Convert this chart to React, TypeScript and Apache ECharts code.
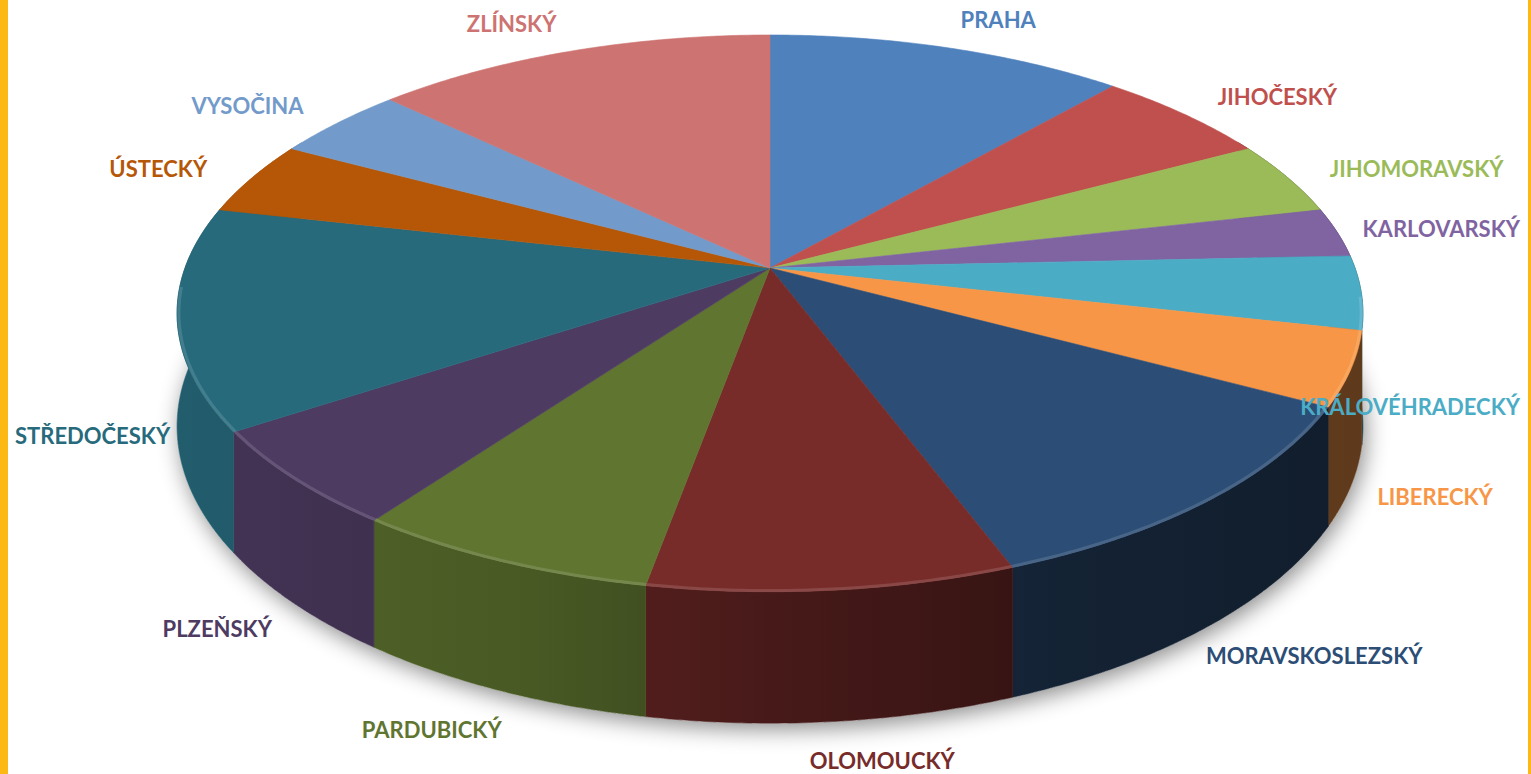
import React, { useEffect, useRef } from 'react';
import * as echarts from 'echarts';

// ---- data ----
const regions = ['PRAHA', 'JIHOČESKÝ', 'JIHOMORAVSKÝ', 'KARLOVARSKÝ', 'KRÁLOVÉHRADECKÝ', 'LIBERECKÝ', 'MORAVSKOSLEZSKÝ', 'OLOMOUCKÝ', 'PARDUBICKÝ', 'PLZEŇSKÝ', 'STŘEDOČESKÝ', 'ÚSTECKÝ', 'VYSOČINA', 'ZLÍNSKÝ'];
const values = [8, 4, 3, 2, 3, 3, 8, 6, 5, 4, 9, 3, 3, 9];
const colors = ['#4F81BD', '#C0504D', '#9BBB59', '#8064A2', '#4BACC6', '#F79646', '#2C4D75', '#772C2A', '#5F7530', '#4D3B62', '#276A7C', '#B65708', '#729ACA', '#CD7371'];

// ---- layout of the 3D pie (pixels) ----
const CX = 770, CY = 268, RX = 585, RY = 271, PERSP = 0.163, DEPTH = 110;
const LABEL_FONT = 'Lato';
const LABEL_SIZE = 22;
const CHART_LEFT = 15, CHART_RIGHT = 1520, CHART_BOTTOM = 760;

const total = values.reduce((s, v) => s + v, 0);
const starts: number[] = [];
const ends: number[] = [];
{
  let c = 0;
  values.forEach((v) => {
    starts.push((c / total) * 360);
    c += v;
    ends.push((c / total) * 360);
  });
}

function project(deg: number, r: number, h: number): number[] {
  const t = (deg * Math.PI) / 180;
  const u = r * Math.sin(t);
  const v = -r * Math.cos(t);
  const w = 1 - PERSP * v;
  return [CX + (RX * u) / w, CY + (RY * v + DEPTH * h) / w];
}

function hexToRgb(hex: string) {
  const n = parseInt(hex.slice(1), 16);
  return [(n >> 16) & 255, (n >> 8) & 255, n & 255];
}
function shade(hex: string, f: number) {
  const [r, g, b] = hexToRgb(hex);
  return `rgb(${Math.round(r * f)},${Math.round(g * f)},${Math.round(b * f)})`;
}
function tint(hex: string, t: number) {
  const [r, g, b] = hexToRgb(hex);
  const m = (c: number) => Math.round(c + (255 - c) * t);
  return `rgb(${m(r)},${m(g)},${m(b)})`;
}

let measureCtx: CanvasRenderingContext2D | null = null;
function textWidth(t: string) {
  if (!measureCtx) measureCtx = document.createElement('canvas').getContext('2d');
  if (!measureCtx) return t.length * 14;
  measureCtx.font = `bold ${LABEL_SIZE}px ${LABEL_FONT}`;
  return measureCtx.measureText(t).width;
}

function arc(a0: number, a1: number, r: number, h: number) {
  const pts: number[][] = [];
  const n = Math.max(2, Math.ceil((a1 - a0) / 0.5));
  for (let k = 0; k <= n; k++) pts.push(project(a0 + ((a1 - a0) * k) / n, r, h));
  return pts;
}

function sideItem(params: any) {
  const i = params.dataIndex;
  const children: any[] = [];
  if (i === 0) {
    children.push({
      type: 'polygon',
      shape: { points: arc(0, 360, 1, 1) },
      style: { fill: '#ffffff', shadowBlur: 22, shadowColor: 'rgba(0,0,0,0.45)', shadowOffsetX: 3, shadowOffsetY: 6 },
      z2: 0,
    });
  }
  const a0 = Math.max(starts[i], 60);
  const a1 = Math.min(ends[i], 300);
  if (a1 > a0) {
    const top = arc(a0, a1, 1, 0);
    const bottom = arc(a0, a1, 1, 1).reverse();
    const col = colors[i];
    const fill = new echarts.graphic.LinearGradient(175, 0, 1365, 0, [
      { offset: 0, color: shade(col, 0.88) },
      { offset: 0.3, color: shade(col, 0.76) },
      { offset: 0.5, color: shade(col, 0.6) },
      { offset: 0.72, color: shade(col, 0.45) },
      { offset: 1, color: shade(col, 0.38) },
    ], true);
    children.push({
      type: 'polygon',
      shape: { points: top.concat(bottom) },
      style: { fill, stroke: fill, lineWidth: 0.6 },
      z2: 5,
    });
  }
  return { type: 'group', children };
}

function topItem(params: any) {
  const i = params.dataIndex;
  const col = colors[i];
  const children: any[] = [];
  const pts = [[CX, CY]].concat(arc(starts[i], ends[i], 1, 0));
  children.push({
    type: 'polygon',
    shape: { points: pts },
    style: { fill: col, stroke: col, lineWidth: 0.6 },
    z2: 10,
  });
  const h0 = Math.max(starts[i], 96);
  const h1 = Math.min(ends[i], 266);
  if (h1 > h0) {
    children.push({
      type: 'polyline',
      shape: { points: arc(h0, h1, 0.997, 0) },
      style: { stroke: tint(col, 0.18), lineWidth: 3, opacity: 0.75, fill: 'none' },
      z2: 11,
    });
  }
  // label: outside the slice, on the bottom rim for the front half
  const mid = (starts[i] + ends[i]) / 2;
  const t = (mid * Math.PI) / 180;
  const s = Math.sin(t);
  const c = Math.cos(t);
  const front = -c > 0;
  const p = project(mid, front ? 1.08 : 1.1, front ? 1 : 0);
  const w = textWidth(regions[i]);
  let x = p[0] + Math.sign(s) * (w / 2) * (front ? 0.6 : 0.92);
  let y = p[1] + (LABEL_SIZE / 2) * -c * Math.abs(c);
  x = Math.max(CHART_LEFT + w / 2, Math.min(CHART_RIGHT - w / 2, x));
  y = Math.min(CHART_BOTTOM, y);
  children.push({
    type: 'text',
    style: {
      text: regions[i],
      x,
      y,
      align: 'center',
      verticalAlign: 'middle',
      fill: col,
      fontFamily: LABEL_FONT,
      fontWeight: 'bold',
      fontSize: LABEL_SIZE,
    },
    z2: 20,
  });
  return { type: 'group', children };
}

export default function App() {
  const ref = useRef<HTMLDivElement>(null);
  useEffect(() => {
    document.body.style.margin = '0';
    if (!ref.current) return;
    const chart = echarts.init(ref.current, undefined, { renderer: 'svg' });
    const data = values.map((v, i) => ({ value: v, name: regions[i] }));
    chart.setOption({
      animation: false,
      backgroundColor: '#ffffff',
      series: [
        { type: 'custom', coordinateSystem: 'none', renderItem: sideItem, data, silent: true },
        { type: 'custom', coordinateSystem: 'none', renderItem: topItem, data, silent: true },
      ],
    });
    return () => chart.dispose();
  }, []);
  return (
    <div style={{ position: 'relative', width: 1531, height: 774, overflow: 'hidden' }}>
      <div ref={ref} style={{ position: 'absolute', left: 0, top: 0, width: 1531, height: 774 }} />
      <div style={{ position: 'absolute', left: 0, top: 0, width: 8, height: 774, background: '#FDB913' }} />
      <div style={{ position: 'absolute', left: 1528, top: 0, width: 3, height: 774, background: '#FDB913' }} />
    </div>
  );
}
